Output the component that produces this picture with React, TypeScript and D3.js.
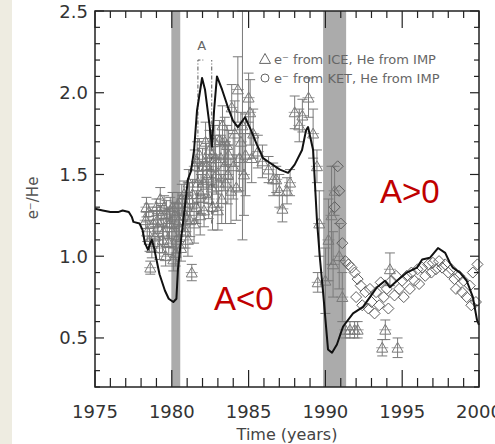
import React from "react";
import * as d3 from "d3";

const W = 495;
const H = 444;

// Black model line
const lineYears = [1975.0, 1975.5, 1976.0, 1976.5, 1976.8, 1977.2, 1977.4, 1977.5, 1977.9, 1978.1, 1978.25, 1978.45, 1978.6, 1978.7, 1978.85, 1979.0, 1979.2, 1979.55, 1979.8, 1980.1, 1980.3, 1980.4, 1980.6, 1980.86, 1981.05, 1981.25, 1981.45, 1981.64, 1981.97, 1982.16, 1982.42, 1982.62, 1982.75, 1982.94, 1983.27, 1983.66, 1983.98, 1984.3, 1984.77, 1985.16, 1985.55, 1985.94, 1986.4, 1987.04, 1987.57, 1988.0, 1988.48, 1988.74, 1988.87, 1989.2, 1989.45, 1989.65, 1989.84, 1990.17, 1990.43, 1990.75, 1991.15, 1991.8, 1992.45, 1992.9, 1993.36, 1993.88, 1994.2, 1994.66, 1995.3, 1995.96, 1996.3, 1996.8, 1997.33, 1997.8, 1998.1, 1998.3, 1998.76, 1999.2, 1999.6, 1999.87, 2000.0];
const lineValues = [1.29, 1.28, 1.27, 1.27, 1.28, 1.27, 1.24, 1.21, 1.2, 1.16, 1.08, 1.04, 1.08, 1.1, 1.05, 0.98, 0.89, 0.79, 0.74, 0.72, 0.74, 0.92, 1.1, 1.31, 1.47, 1.52, 1.65, 1.89, 2.09, 2.02, 1.83, 1.67, 1.89, 2.1, 2.02, 1.91, 1.83, 1.79, 1.85, 1.77, 1.68, 1.6, 1.57, 1.53, 1.51, 1.56, 1.65, 1.77, 1.79, 1.65, 1.22, 0.98, 0.79, 0.43, 0.41, 0.46, 0.57, 0.65, 0.69, 0.75, 0.81, 0.85, 0.81, 0.85, 0.9, 0.93, 0.98, 0.99, 1.05, 1.02, 0.96, 0.93, 0.9, 0.85, 0.75, 0.61, 0.58];

// Triangles: e- from ICE, He from IMP
const iceYears = [1978.3, 1978.4, 1978.5, 1978.6, 1978.7, 1978.8, 1978.9, 1979.0, 1979.1, 1979.2, 1979.3, 1979.4, 1979.5, 1979.6, 1979.7, 1979.8, 1979.9, 1980.0, 1980.1, 1980.2, 1980.3, 1980.4, 1980.5, 1980.6, 1980.7, 1980.8, 1980.9, 1981.0, 1981.1, 1981.2, 1981.3, 1981.35, 1981.5, 1981.6, 1981.7, 1981.8, 1981.9, 1982.0, 1982.1, 1982.2, 1982.3, 1982.4, 1982.5, 1982.6, 1982.7, 1982.8, 1982.9, 1983.0, 1983.1, 1983.2, 1983.3, 1983.4, 1983.5, 1983.6, 1983.7, 1983.9, 1984.0, 1984.2, 1984.3, 1984.5, 1984.6, 1984.8, 1985.0, 1985.1, 1985.3, 1985.6, 1985.9, 1986.3, 1986.6, 1986.8, 1987.0, 1987.2, 1987.5, 1987.7, 1988.0, 1988.3, 1988.5, 1988.9, 1989.2, 1989.45, 1989.5, 1989.6, 1990.6, 1991.3, 1991.6, 1991.9, 1992.1, 1993.7, 1993.9, 1994.2, 1994.7,
  1978.35, 1978.55, 1979.05, 1979.25, 1979.45, 1979.65, 1979.85, 1980.05, 1980.25, 1980.45, 1980.65, 1980.85, 1981.05, 1981.15, 1981.45, 1981.65, 1981.85, 1982.05, 1982.25, 1982.45, 1982.65, 1982.85, 1983.05, 1983.25, 1983.45, 1983.65, 1983.85, 1984.1, 1984.4, 1984.7, 1985.2, 1990.0, 1990.2, 1990.4, 1990.5, 1990.9, 1991.1];
const iceValues = [1.22, 1.15, 1.27, 0.93, 1.05, 1.2, 1.12, 1.3, 1.18, 1.05, 1.25, 1.1, 1.3, 1.0, 1.2, 1.08, 1.28, 1.15, 0.98, 1.25, 1.1, 1.32, 1.18, 1.05, 1.28, 1.38, 1.15, 1.3, 1.45, 1.22, 0.9, 1.38, 1.55, 1.3, 1.45, 1.62, 1.38, 1.55, 1.28, 1.7, 1.48, 1.35, 1.6, 1.42, 1.55, 1.7, 1.5, 1.28, 1.71, 1.6, 1.8, 1.55, 1.45, 1.68, 1.62, 1.91, 1.55, 1.42, 2.02, 1.7, 1.8, 1.62, 1.97, 1.88, 1.75, 1.64, 1.58, 1.53, 1.47, 1.47, 1.4, 1.29, 1.4, 1.45, 1.88, 1.8, 1.86, 1.97, 1.75, 1.55, 0.84, 1.2, 1.4, 0.55, 0.55, 0.55, 0.55, 0.44, 0.55, 0.92, 0.44,
  1.3, 1.1, 1.22, 1.35, 1.15, 1.26, 1.2, 1.3, 1.02, 1.22, 1.35, 1.25, 1.1, 1.35, 1.2, 1.58, 1.25, 1.45, 1.55, 1.65, 1.3, 1.6, 1.45, 1.35, 1.7, 1.5, 1.4, 1.75, 1.6, 1.5, 1.6, 0.85, 1.1, 1.25, 0.95, 1.0, 0.75];
const iceErrors = [0.05, 0.06, 0.05, 0.04, 0.06, 0.08, 0.06, 0.05, 0.08, 0.07, 0.06, 0.08, 0.07, 0.06, 0.09, 0.07, 0.08, 0.09, 0.07, 0.08, 0.08, 0.07, 0.09, 0.08, 0.09, 0.08, 0.1, 0.09, 0.08, 0.1, 0.05, 0.09, 0.1, 0.1, 0.12, 0.1, 0.12, 0.11, 0.1, 0.12, 0.12, 0.12, 0.12, 0.1, 0.12, 0.1, 0.12, 0.12, 0.12, 0.14, 0.12, 0.15, 0.25, 0.12, 0.15, 0.14, 0.2, 0.2, 0.2, 0.18, 0.7, 0.25, 0.15, 0.2, 0.15, 0.1, 0.1, 0.08, 0.1, 0.08, 0.1, 0.08, 0.08, 0.08, 0.1, 0.1, 0.1, 0.12, 0.15, 0.1, 0.06, 0.2, 0.15, 0.05, 0.05, 0.05, 0.05, 0.05, 0.06, 0.1, 0.06,
  0.06, 0.07, 0.08, 0.07, 0.08, 0.08, 0.09, 0.09, 0.08, 0.1, 0.09, 0.1, 0.1, 0.1, 0.12, 0.12, 0.12, 0.12, 0.14, 0.12, 0.14, 0.14, 0.15, 0.15, 0.15, 0.18, 0.2, 0.2, 0.2, 0.25, 0.15, 0.2, 0.25, 0.3, 0.2, 0.2, 0.15];

// Diamonds: e- from KET, He from IMP
const ketYears = [1990.6, 1990.8, 1990.9, 1991.0, 1991.1, 1991.3, 1991.5, 1991.7, 1991.9, 1992.0, 1992.1, 1992.3, 1992.4, 1992.6, 1992.8, 1992.9, 1993.0, 1993.2, 1993.3, 1993.5, 1993.6, 1993.8, 1994.0, 1994.1, 1994.3, 1994.5, 1994.6, 1994.8, 1995.0, 1995.1, 1995.3, 1995.5, 1995.6, 1995.8, 1996.0, 1996.1, 1996.3, 1996.5, 1996.7, 1996.9, 1997.0, 1997.2, 1997.4, 1997.6, 1997.8, 1998.0, 1998.2, 1998.4, 1998.5, 1998.7, 1998.9, 1999.0, 1999.2, 1999.4, 1999.5, 1999.6, 1999.8, 1999.9];
const ketValues = [1.3, 1.55, 1.4, 1.2, 1.08, 0.97, 0.95, 0.93, 0.9, 0.75, 0.86, 0.82, 0.7, 0.78, 0.68, 0.8, 0.72, 0.65, 0.78, 0.7, 0.84, 0.75, 0.8, 0.68, 0.85, 0.76, 0.88, 0.8, 0.85, 0.75, 0.88, 0.8, 0.9, 0.85, 0.92, 0.83, 0.93, 0.88, 0.95, 0.9, 0.96, 0.92, 0.97, 0.93, 0.95, 0.9, 0.92, 0.86, 0.8, 0.88, 0.78, 0.85, 0.75, 0.82, 0.7, 0.9, 0.72, 0.95];

// Shaded periods (polarity reversal)
const bandStarts = [1979.97, 1989.85];
const bandEnds = [1980.55, 1991.35];

const xTickLabels = ["1975", "1980", "1985", "1990", "1995", "2000"];
const yTickLabels = ["0.5", "1.0", "1.5", "2.0", "2.5"];
const legendLabels = ["e\u207B from ICE, He from IMP", "e\u207B from KET, He from IMP"];

const PL = 95, PR = 479, PT = 11, PB = 387;

export default function App() {
  const x = d3.scaleLinear().domain([1975, 2000]).range([PL, PR]);
  const y = d3.scaleLinear().domain([0.2, 2.5]).range([PB, PT]);

  const line = d3
    .line<number>()
    .x((_, i) => x(lineYears[i]))
    .y((v) => y(v));
  const linePath = line(lineValues) || "";

  const minorX = d3.range(1975, 2001, 1);
  const minorY = d3.range(2, 26).map((d) => d / 10);

  const gray = "#7a7a7a";
  const font = "DejaVu Sans, sans-serif";

  const tri = (cx: number, cy: number) => {
    const s = 5.5;
    return `M${cx},${cy - s}L${cx + s},${cy + s * 0.8}L${cx - s},${cy + s * 0.8}Z`;
  };
  const dia = (cx: number, cy: number) => {
    const s = 5.5;
    return `M${cx},${cy - s}L${cx + s},${cy}L${cx},${cy + s}L${cx - s},${cy}Z`;
  };

  return (
    <div style={{ position: "fixed", left: 0, top: 0, width: W, height: H }}>
      <svg width={W} height={H} style={{ display: "block" }}>
        <rect x={0} y={0} width={W} height={H} fill="#ffffff" />
        <rect x={0} y={0} width={12} height={H} fill="#EEECE1" />

        {/* gray bands */}
        {bandStarts.map((b, i) => (
          <rect
            key={"band" + i}
            x={x(b)}
            y={PT}
            width={x(bandEnds[i]) - x(b)}
            height={PB - PT}
            fill="#ababab"
          />
        ))}

        {/* ICE error bars and triangles */}
        <g stroke={gray} strokeWidth={1} fill="none">
          {iceYears.map((yr, i) => {
            const cx = x(yr);
            const lo = y(Math.max(0.2, iceValues[i] - iceErrors[i]));
            const hi = y(Math.min(2.5, iceValues[i] + iceErrors[i]));
            return (
              <g key={"e" + i}>
                <line x1={cx} x2={cx} y1={lo} y2={hi} />
                <line x1={cx - 5} x2={cx + 5} y1={lo} y2={lo} />
                <line x1={cx - 5} x2={cx + 5} y1={hi} y2={hi} />
                <line x1={cx - 6} x2={cx + 6} y1={y(iceValues[i])} y2={y(iceValues[i])} strokeWidth={0.7} />
              </g>
            );
          })}
          {iceYears.map((yr, i) => (
            <path key={"t" + i} d={tri(x(yr), y(iceValues[i]))} />
          ))}
        </g>

        {/* KET diamonds */}
        <g stroke="#5e5e5e" strokeWidth={1} fill="none">
          {ketYears.map((yr, i) => (
            <path key={"d" + i} d={dia(x(yr), y(ketValues[i]))} />
          ))}
        </g>

        {/* "A" marker with dashed lines */}
        <g stroke="#555" strokeWidth={1} fill="none" strokeDasharray="4,2,1,2">
          <path d={`M${x(1981.7)},${y(1.2)}V${y(2.2)}H${x(1982.05)}`} />
          <path d={`M${x(1982.6)},${y(1.2)}V${y(2.2)}`} />
        </g>
        <text x={x(1981.95)} y={y(2.26)} fontFamily={font} fontSize={13} fill="#666" textAnchor="middle">
          A
        </text>

        {/* black line */}
        <path d={linePath} fill="none" stroke="#111" strokeWidth={2} strokeLinejoin="round" />

        {/* frame */}
        <rect x={PL} y={PT} width={PR - PL} height={PB - PT} fill="none" stroke="#222" strokeWidth={1.5} />

        {/* ticks */}
        <g stroke="#222" strokeWidth={1.2}>
          {minorX.map((t) => {
            const major = t % 5 === 0;
            const len = major ? 17 : 9;
            return (
              <g key={"xt" + t}>
                <line x1={x(t)} x2={x(t)} y1={PB} y2={PB - len} />
                <line x1={x(t)} x2={x(t)} y1={PT} y2={PT + (major ? 17 : 7)} />
              </g>
            );
          })}
          {minorY.map((t) => {
            const major = Math.abs(t * 2 - Math.round(t * 2)) < 1e-6;
            const len = major ? 9 : 5;
            return (
              <g key={"yt" + t}>
                <line x1={PL} x2={PL + len} y1={y(t)} y2={y(t)} />
                <line x1={PR} x2={PR - len} y1={y(t)} y2={y(t)} />
              </g>
            );
          })}
        </g>

        {/* tick labels */}
        {xTickLabels.map((l) => (
          <text key={"xl" + l} x={x(+l)} y={418} fontFamily={font} fontSize={18} fill="#333" textAnchor="middle">
            {l}
          </text>
        ))}
        {yTickLabels.map((l) => (
          <text key={"yl" + l} x={88} y={y(+l) + 6.5} fontFamily={font} fontSize={18} fill="#333" textAnchor="end">
            {l}
          </text>
        ))}

        {/* axis titles */}
        <text x={x(1987.5)} y={440} fontFamily={font} fontSize={16} fill="#444" textAnchor="middle">
          Time (years)
        </text>
        <text transform={`translate(38,198) rotate(-90)`} fontFamily={font} fontSize={15} fill="#555" textAnchor="middle">
          e{"\u207B"}/He
        </text>

        {/* legend */}
        <g fontFamily={font} fontSize={13} fill="#666">
          <path d={tri(265, 59)} fill="none" stroke="#666" strokeWidth={1} />
          <text x={274} y={64}>{legendLabels[0]}</text>
          <circle cx={265} cy={78} r={4} fill="none" stroke="#666" strokeWidth={1} />
          <text x={274} y={83}>{legendLabels[1]}</text>
        </g>

        {/* polarity labels */}
        <text x={380} y={203} fontFamily="Liberation Sans, Arial, sans-serif" fontSize={33} fill="#C00000">
          A&gt;0
        </text>
        <text x={214} y={310} fontFamily="Liberation Sans, Arial, sans-serif" fontSize={33} fill="#C00000">
          A&lt;0
        </text>
      </svg>
    </div>
  );
}
